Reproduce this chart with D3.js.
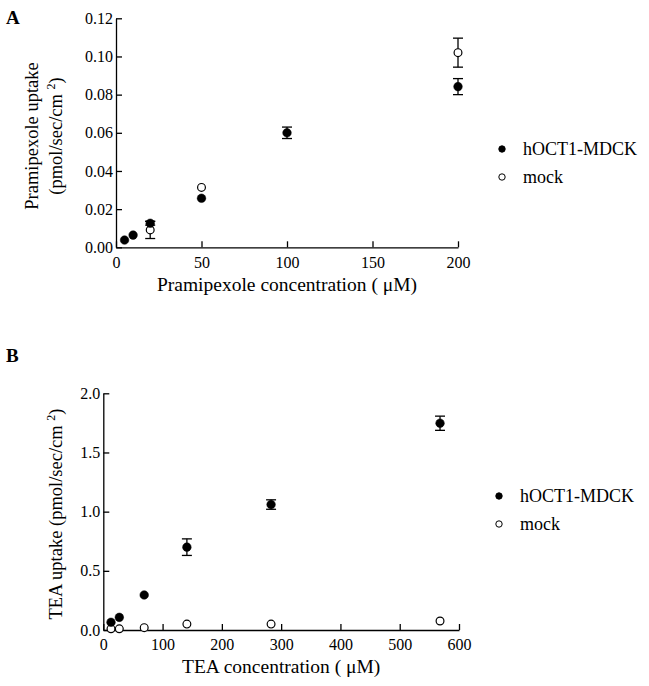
<!DOCTYPE html>
<html>
<head>
<meta charset="utf-8">
<script src="https://cdn.jsdelivr.net/npm/d3@7"></script>
<style>
  body { margin: 0; background: #fff; }
  svg { display: block; font-family: "Liberation Serif", "Times New Roman", serif; }
</style>
</head>
<body>
<div id="chart"></div>
<script>
/* Panel A: pramipexole uptake */
const pramConc = [5, 10, 20, 50, 100, 200];
const pramOct1 = [0.0038, 0.0064, 0.0126, 0.0257, 0.0600, 0.0842];
const pramOct1Err = [0, 0, 0.001, 0, 0.003, 0.0042];
const pramMockConc = [20, 50, 200];
const pramMock = [0.0091, 0.0314, 0.1020];
const pramMockErr = [0.0045, 0, 0.0076];
const pramXTicks = [0, 50, 100, 150, 200];
const pramYTicks = [0, 0.02, 0.04, 0.06, 0.08, 0.10, 0.12];

/* Panel B: TEA uptake */
const teaConc = [13, 27, 69, 141, 283, 568];
const teaOct1 = [0.065, 0.107, 0.296, 0.70, 1.06, 1.747];
const teaOct1Err = [0, 0, 0, 0.07, 0.04, 0.06];
const teaMock = [0.01, 0.01, 0.02, 0.05, 0.05, 0.076];
const teaMockErr = [0, 0, 0, 0, 0, 0];
const teaXTicks = [0, 100, 200, 300, 400, 500, 600];
const teaYTicks = [0, 0.5, 1.0, 1.5, 2.0];

const legendLabels = ["hOCT1-MDCK", "mock"];

const width = 649;
const height = 686;

const svg = d3.select("#chart")
  .append("svg")
  .attr("width", width)
  .attr("height", height);

svg.append("rect")
  .attr("width", width)
  .attr("height", height)
  .attr("fill", "#fff");

function drawPanel(opt) {
  const g = svg.append("g");

  const x = d3.scaleLinear().domain(opt.xDomain).range([opt.left, opt.right]);
  const y = d3.scaleLinear().domain(opt.yDomain).range([opt.bottom, opt.top]);

  const xAxis = d3.axisBottom(x)
    .tickValues(opt.xTicks)
    .tickSizeInner(-6)
    .tickSizeOuter(0)
    .tickPadding(9)
    .tickFormat(d3.format("d"));

  const yAxis = d3.axisLeft(y)
    .tickValues(opt.yTicks)
    .tickSizeInner(-6)
    .tickSizeOuter(0)
    .tickPadding(3)
    .tickFormat(d3.format(opt.yFormat));

  const gx = g.append("g")
    .attr("transform", `translate(0,${opt.bottom})`)
    .call(xAxis);
  const gy = g.append("g")
    .attr("transform", `translate(${opt.left},0)`)
    .call(yAxis);

  [gx, gy].forEach(a => {
    a.selectAll("path, line").attr("stroke", "#000").attr("stroke-width", 1.3);
    a.selectAll("text")
      .attr("font-family", "Liberation Serif, serif")
      .attr("font-size", 16)
      .attr("fill", "#000");
  });

  // mock first, filled points on top
  const series = [
    { xs: opt.mockX, ys: opt.mockY, err: opt.mockErr, filled: false },
    { xs: opt.octX, ys: opt.octY, err: opt.octErr, filled: true }
  ];

  series.forEach(s => {
    const pts = s.xs.map((v, i) => ({ x: v, y: s.ys[i], e: s.err[i] }));
    const eb = g.append("g");
    pts.filter(d => d.e > 0).forEach(d => {
      const cx = x(d.x);
      eb.append("line")
        .attr("x1", cx).attr("x2", cx)
        .attr("y1", y(d.y - d.e)).attr("y2", y(d.y + d.e))
        .attr("stroke", "#000").attr("stroke-width", 1.3);
      [d.y - d.e, d.y + d.e].forEach(v => {
        eb.append("line")
          .attr("x1", cx - 5).attr("x2", cx + 5)
          .attr("y1", y(v)).attr("y2", y(v))
          .attr("stroke", "#000").attr("stroke-width", 1.3);
      });
    });
    g.append("g").selectAll("circle")
      .data(pts)
      .join("circle")
        .attr("cx", d => x(d.x))
        .attr("cy", d => y(d.y))
        .attr("r", s.filled ? 4.3 : 3.9)
        .attr("fill", s.filled ? "#000" : "#fff")
        .attr("stroke", "#000")
        .attr("stroke-width", s.filled ? 0.5 : 1.2);
  });

  // panel letter
  g.append("text")
    .attr("x", 6)
    .attr("y", opt.letterY)
    .attr("font-size", 19)
    .attr("font-weight", "bold")
    .text(opt.letter);

  // x title
  g.append("text")
    .attr("x", (opt.left + opt.right) / 2)
    .attr("y", opt.xTitleY)
    .attr("text-anchor", "middle")
    .attr("font-size", 19.5)
    .text(opt.xTitle);

  // y title (rotated, may be multi-line; last line carries superscript)
  opt.yTitle.forEach((line, i) => {
    const t = g.append("text")
      .attr("transform", `translate(${opt.yTitleX[i]},${opt.yTitleY}) rotate(-90)`)
      .attr("text-anchor", "middle")
      .attr("font-size", 18.5);
    t.append("tspan").text(line[0]);
    if (line.length > 1) {
      t.append("tspan").attr("dy", -7).attr("font-size", 12).text(line[1]);
      t.append("tspan").attr("dy", 7).text(line[2]);
    }
  });

  // legend
  legendLabels.forEach((lab, i) => {
    const ly = opt.legendY + i * 28;
    g.append("circle")
      .attr("cx", opt.legendX)
      .attr("cy", ly)
      .attr("r", 3.2)
      .attr("fill", i === 0 ? "#000" : "#fff")
      .attr("stroke", "#000")
      .attr("stroke-width", 1);
    g.append("text")
      .attr("x", opt.legendX + 21)
      .attr("y", ly + 6)
      .attr("font-size", 18)
      .text(lab);
  });
}

drawPanel({
  letter: "A", letterY: 24,
  left: 116, right: 458, top: 18.3, bottom: 247.3,
  xDomain: [0, 200], yDomain: [0, 0.12],
  xTicks: pramXTicks, yTicks: pramYTicks, yFormat: ".2f",
  octX: pramConc, octY: pramOct1, octErr: pramOct1Err,
  mockX: pramMockConc, mockY: pramMock, mockErr: pramMockErr,
  xTitle: "Pramipexole concentration ( \u03bcM)", xTitleY: 291,
  yTitle: [["Pramipexole uptake"], ["(pmol/sec/cm ", "2", ")"]],
  yTitleX: [38, 62], yTitleY: 136,
  legendX: 502, legendY: 149
});

drawPanel({
  letter: "B", letterY: 362,
  left: 103.3, right: 459, top: 393.3, bottom: 630,
  xDomain: [0, 600], yDomain: [0, 2.0],
  xTicks: teaXTicks, yTicks: teaYTicks, yFormat: ".1f",
  octX: teaConc, octY: teaOct1, octErr: teaOct1Err,
  mockX: teaConc, mockY: teaMock, mockErr: teaMockErr,
  xTitle: "TEA concentration ( \u03bcM)", xTitleY: 673,
  yTitle: [["TEA uptake (pmol/sec/cm ", "2", ")"]],
  yTitleX: [62], yTitleY: 514,
  legendX: 499, legendY: 496
});
</script>
</body>
</html>
